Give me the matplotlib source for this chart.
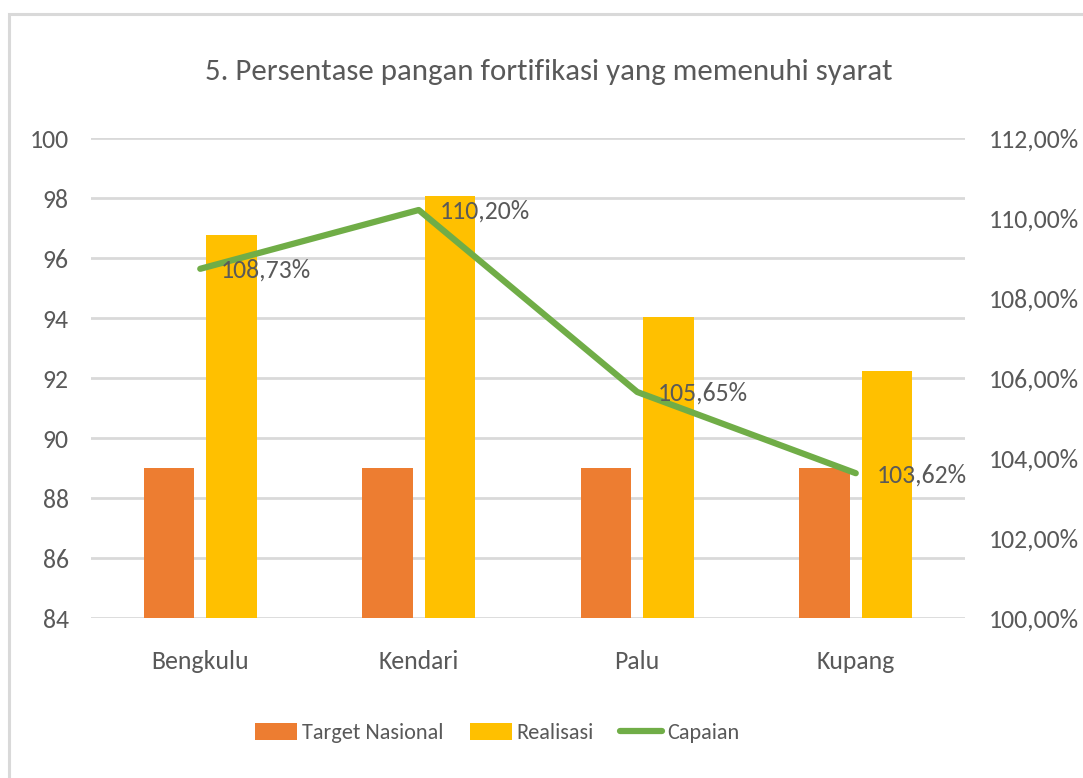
import matplotlib
matplotlib.use("Agg")
import matplotlib.pyplot as plt
from matplotlib.patches import Rectangle, Patch
from matplotlib.lines import Line2D
import numpy as np

categories = ["Bengkulu", "Kendari", "Palu", "Kupang"]
target = [89, 89, 89, 89]
realisasi = [96.77, 98.08, 94.03, 92.22]
capaian = [108.73, 110.20, 105.65, 103.62]
capaian_labels = ["108,73%", "110,20%", "105,65%", "103,62%"]
left_ticks = [84, 86, 88, 90, 92, 94, 96, 98, 100]
right_ticks = [100, 102, 104, 106, 108, 110, 112]
right_tick_labels = ["100,00%", "102,00%", "104,00%", "106,00%", "108,00%", "110,00%", "112,00%"]

FONT = ["Carlito", "DejaVu Sans"]
plt.rcParams['font.family'] = FONT
TXT = "#595959"
GRID = "#D9D9D9"
C_T = "#ED7D31"
C_R = "#FFC000"
C_C = "#70AD47"
FS = 18.5

W, H = 1083, 778
fig = plt.figure(figsize=(W / 100, H / 100), dpi=100)

# outer frame
fig.patches.append(Rectangle((9 / W, -0.05), 1.2, 1 - 14 / H + 0.05, transform=fig.transFigure,
                             fill=False, edgecolor=GRID, linewidth=2.2, zorder=0))

ax = fig.add_axes([91 / W, 1 - 618 / H, (965 - 91) / W, (618 - 138) / H])
x = np.arange(len(categories))
bw = 0.229
off = 0.143
ax.bar(x - off, [t - 84 for t in target], bottom=84, width=bw, color=C_T, zorder=3)
ax.bar(x + off, [r - 84 for r in realisasi], bottom=84, width=bw, color=C_R, zorder=3)
ax.set_xlim(-0.5, len(categories) - 0.5)
ax.set_ylim(84, 100)
ax.set_yticks(left_ticks)
ax.set_yticklabels([str(t) for t in left_ticks])
ax.set_xticks(x)
ax.set_xticklabels(categories)
ax.yaxis.grid(True, color=GRID, linewidth=2, zorder=0)
ax.set_axisbelow(True)
for s in ax.spines.values():
    s.set_visible(False)
ax.tick_params(axis='both', length=0, colors=TXT, labelsize=FS)
ax.tick_params(axis='y', pad=16)
ax.tick_params(axis='x', pad=23)

ax2 = ax.twinx()
ax2.plot(x, capaian, color=C_C, linewidth=4.5, solid_capstyle='round', solid_joinstyle='round', zorder=5)
ax2.set_ylim(100, 112)
ax2.set_yticks(right_ticks)
ax2.set_yticklabels(right_tick_labels)
for s in ax2.spines.values():
    s.set_visible(False)
ax2.tick_params(axis='y', length=0, colors=TXT, labelsize=FS, pad=17)
for xi, yi, lab in zip(x, capaian, capaian_labels):
    ax2.annotate(lab, (xi, yi), xytext=(15, -1), textcoords='offset points',
                 ha='left', va='center', fontsize=FS, color=TXT, zorder=6)

fig.text(549 / W, 1 - 72 / H, "5. Persentase pangan fortifikasi yang memenuhi syarat",
         ha='center', va='center', fontsize=22.2, color=TXT)

LFS = 16
handles = [Patch(facecolor=C_T, edgecolor='none'), Patch(facecolor=C_R, edgecolor='none'),
           Line2D([0], [0], color=C_C, linewidth=4.5, solid_capstyle='round')]
leg = fig.legend(handles, ["Target Nasional", "Realisasi", "Capaian"], loc='center',
                 bbox_to_anchor=(497 / W, 1 - 733 / H), ncol=3, frameon=False,
                 fontsize=LFS, handlelength=1.9, handleheight=0.85, handletextpad=0.2,
                 columnspacing=1.2)
for t in leg.get_texts():
    t.set_color(TXT)

fig.savefig("out.png", dpi=100)
